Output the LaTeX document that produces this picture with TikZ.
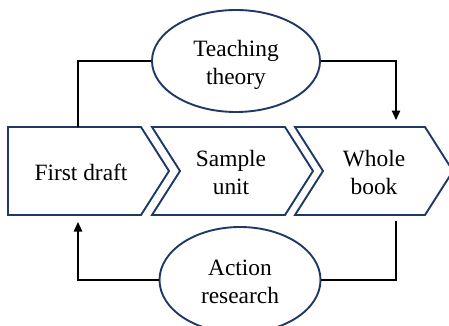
\documentclass[tikz,border=0pt]{standalone}
\usepackage{fontspec}
\setmainfont{Liberation Serif}
\usetikzlibrary{arrows.meta,shapes.geometric}
\definecolor{navy}{HTML}{1F3864}
\tikzset{
  chev/.style={draw=navy,line width=1.9pt,line join=miter,fill=white},
  oval/.style={ellipse,draw=navy,line width=1.9pt,fill=white,inner sep=0pt},
  lbl/.style={align=center,font=\fontsize{23.4}{28}\selectfont,inner sep=0pt},
  conn/.style={line width=1.4pt,black},
  arr/.style={conn,-{Triangle[width=8.5pt,length=9.5pt]}}
}
\begin{document}
\begin{tikzpicture}[x=1pt,y=-1pt]
\useasboundingbox (0,0) rectangle (449,326);
% chevrons
\draw[chev] (8,127) -- (141,127) -- (169,171) -- (141,215) -- (8,215) -- cycle;
\draw[chev] (152,127) -- (285,127) -- (313,171) -- (285,215) -- (152,215) -- (180,171) -- cycle;
\draw[chev] (295,127) -- (425,127) -- (453,171) -- (425,215) -- (295,215) -- (323,171) -- cycle;
\node[lbl] (fd) at (81,172) {First draft};
\node[lbl] (su) at (231,172) {Sample\\unit};
\node[lbl] (wb) at (374,172) {Whole\\book};
% ellipses
\node[oval,minimum width=168pt,minimum height=102pt] (tt) at (236,61) {};
\node[lbl] (ttl) at (236,65) {Teaching\\theory};
\node[oval,minimum width=161pt,minimum height=106pt] (ar) at (240,280) {};
\node[lbl] (arl) at (240,282) {Action\\research};
% connector endpoints
\coordinate (fdtop) at (78,127);
\coordinate (wbtop) at (396,120);
\coordinate (wbbot) at (396,221);
\coordinate (fdbot) at (78,222);
\draw[conn] (tt.west) -| (fdtop);
\draw[arr] (tt.east) -| (wbtop);
\draw[conn] (wbbot) |- (ar.east);
\draw[arr] (ar.west) -| (fdbot);
\end{tikzpicture}
\end{document}
